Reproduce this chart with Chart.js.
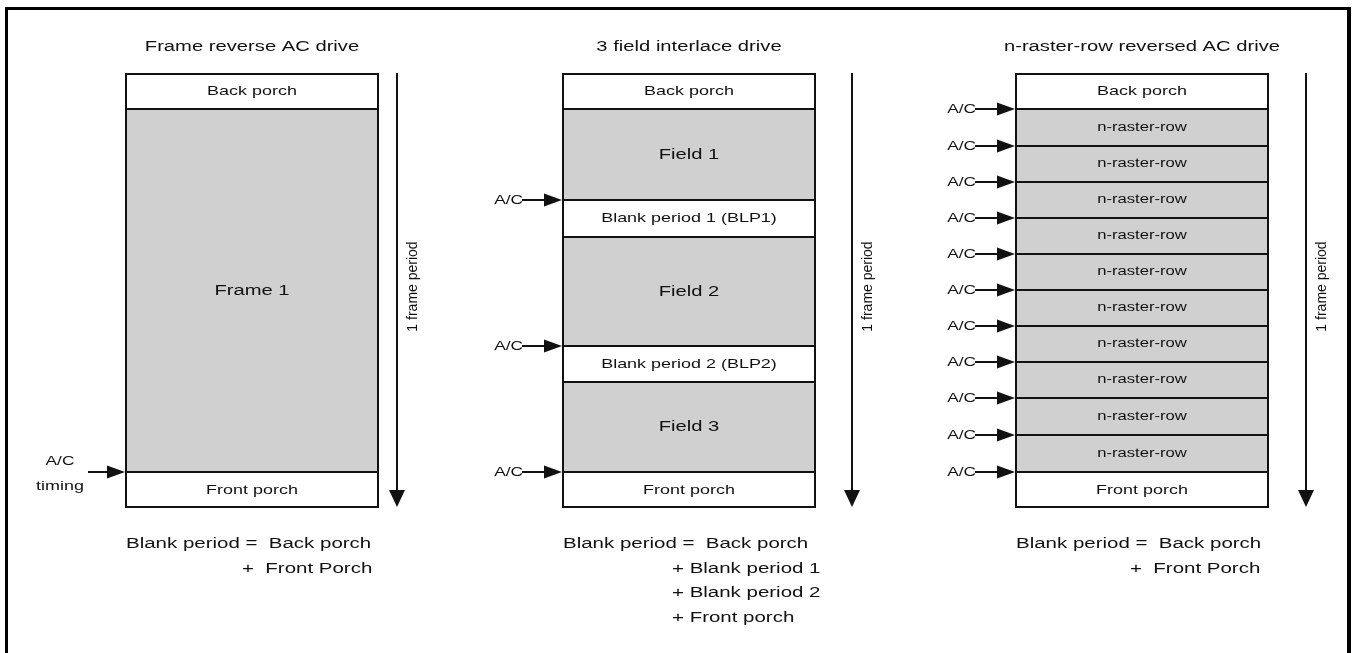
<!DOCTYPE html>
<html>
<head>
<meta charset="utf-8">
<script src="https://cdn.jsdelivr.net/npm/chart.js@4/dist/chart.umd.min.js"></script>
<style>
  html, body { margin: 0; padding: 0; background: #fff; }
  #stage { position: relative; width: 1357px; height: 653px; overflow: hidden; background: #fff; }
  #frame { position: absolute; left: 5px; top: 7px; width: 1346px; height: 700px; box-sizing: border-box;
           border: 3px solid #000; border-bottom: none; border-right-width: 4px; }
  canvas { position: absolute; left: 0; top: 0; }
</style>
</head>
<body>
<div id="stage">
  <div id="frame"></div>
  <canvas id="c1" width="1357" height="653"></canvas>
  <canvas id="c2" width="1357" height="653"></canvas>
  <canvas id="c3" width="1357" height="653"></canvas>
</div>
<script>
// ---------------- data ----------------
const panelTitles = ["Frame reverse AC drive", "3 field interlace drive", "n-raster-row reversed AC drive"];
const periodLabel = "1 frame period";
const acLabel = "A/C";
const acTimingLabel = "timing";

// Panel 1: frame reverse AC drive (segment lengths in the same time units, top to bottom)
const frameSegments = ["Back porch", "Frame 1", "Front porch"];
const frameKinds    = ["blank", "active", "blank"];
const frameLengths  = [36, 363, 36];
const frameAC       = [2];            // A/C at the boundary before segment #2
const frameNotes    = ["Blank period =  Back porch", "+  Front Porch"];

// Panel 2: 3 field interlace drive
const interlaceSegments = ["Back porch", "Field 1", "Blank period 1 (BLP1)", "Field 2", "Blank period 2 (BLP2)", "Field 3", "Front porch"];
const interlaceKinds    = ["blank", "active", "blank", "active", "blank", "active", "blank"];
const interlaceLengths  = [36, 91, 37, 109, 36, 90, 36];
const interlaceAC       = [2, 4, 6];
const interlaceNotes    = ["Blank period =  Back porch", "+ Blank period 1", "+ Blank period 2", "+ Front porch"];

// Panel 3: n-raster-row reversed AC drive
const rasterSegments = ["Back porch", "n-raster-row", "n-raster-row", "n-raster-row", "n-raster-row", "n-raster-row",
                        "n-raster-row", "n-raster-row", "n-raster-row", "n-raster-row", "n-raster-row", "Front porch"];
const rasterKinds    = ["blank", "row", "row", "row", "row", "row", "row", "row", "row", "row", "row", "blank"];
const rasterLengths  = [36, 37, 36, 36, 36, 36, 36, 36, 36, 37, 37, 36];
const rasterAC       = [1, 2, 3, 4, 5, 6, 7, 8, 9, 10, 11];
const rasterNotes    = ["Blank period =  Back porch", "+  Front Porch"];

// ---------------- styling / layout ----------------
const STRETCH = 1.33;            // the original figure is horizontally stretched
const FONT = '"Liberation Sans", Arial, Helvetica, sans-serif';
const INK = '#111';
const FILL = { blank: '#ffffff', active: '#d0d0d0', row: '#d0d0d0' };
const LABEL_SIZE = { blank: 13.5, active: 15.2, row: 12.5 };

function txt(ctx, t, x, y, size, align) {
  ctx.save();
  ctx.translate(x, y);
  ctx.scale(STRETCH, 1);
  ctx.font = size + 'px ' + FONT;
  ctx.textAlign = align || 'center';
  ctx.textBaseline = 'middle';
  ctx.fillStyle = INK;
  ctx.fillText(t, 0, 0);
  ctx.restore();
}
function arrowRight(ctx, x0, x1, y) {
  ctx.save();
  ctx.strokeStyle = INK; ctx.fillStyle = INK; ctx.lineWidth = 2;
  ctx.beginPath(); ctx.moveTo(x0, y); ctx.lineTo(x1 - 14, y); ctx.stroke();
  ctx.beginPath(); ctx.moveTo(x1 - 18, y - 6.5); ctx.lineTo(x1, y); ctx.lineTo(x1 - 18, y + 6.5); ctx.closePath(); ctx.fill();
  ctx.restore();
}
function arrowDown(ctx, x, y0, y1) {
  ctx.save();
  ctx.strokeStyle = INK; ctx.fillStyle = INK; ctx.lineWidth = 2;
  ctx.beginPath(); ctx.moveTo(x, y0); ctx.lineTo(x, y1 - 14); ctx.stroke();
  ctx.beginPath(); ctx.moveTo(x - 8, y1 - 17); ctx.lineTo(x, y1); ctx.lineTo(x + 8, y1 - 17); ctx.closePath(); ctx.fill();
  ctx.restore();
}

const panels = [
  { id: 'c1', title: panelTitles[0], names: frameSegments, kinds: frameKinds, lengths: frameLengths, ac: frameAC,
    notes: frameNotes, left: 125, right: 379, periodGap: 18, acStyle: 'timing', noteIndent: 117 },
  { id: 'c2', title: panelTitles[1], names: interlaceSegments, kinds: interlaceKinds, lengths: interlaceLengths, ac: interlaceAC,
    notes: interlaceNotes, left: 562, right: 816, periodGap: 36, acStyle: 'inline', noteIndent: 110 },
  { id: 'c3', title: panelTitles[2], names: rasterSegments, kinds: rasterKinds, lengths: rasterLengths, ac: rasterAC,
    notes: rasterNotes, left: 1015, right: 1269, periodGap: 37, acStyle: 'inline', noteIndent: 115 }
];

const TOP = 73, BOTTOM = 508, W = 1357, H = 653;

panels.forEach(p => {
  const n = p.lengths.length;
  const total = p.lengths.reduce((a, b) => a + b, 0);
  const datasets = p.lengths.map((v, i) => ({
    label: p.names[i],
    data: [v],
    backgroundColor: FILL[p.kinds[i]],
    borderColor: INK,
    borderWidth: { top: i === 0 ? 2 : 1, bottom: i === n - 1 ? 2 : 1, left: 2, right: 2 },
    borderSkipped: false,
    inflateAmount: 0,
    barPercentage: 1,
    categoryPercentage: 1,
    stack: 's'
  }));

  const deco = {
    id: 'deco_' + p.id,
    afterDatasetsDraw(chart) {
      const ctx = chart.ctx;
      const area = chart.chartArea;
      const yScale = chart.scales.y;
      const cx = (area.left + area.right) / 2;

      // title
      txt(ctx, p.title, cx, 47, 15.2, 'center');

      // labels inside the segments
      chart.data.datasets.forEach((ds, i) => {
        const el = chart.getDatasetMeta(i).data[0];
        const yMid = (el.y + el.base) / 2;
        txt(ctx, ds.label, el.x, yMid, LABEL_SIZE[p.kinds[i]], 'center');
      });

      // A/C markers at segment boundaries
      p.ac.forEach(k => {
        let cum = 0;
        for (let j = 0; j < k; j++) cum += p.lengths[j];
        const y = Math.round(yScale.getPixelForValue(cum));
        if (p.acStyle === 'timing') {
          arrowRight(ctx, area.left - 37, area.left, y);
          txt(ctx, acLabel, area.left - 65, y - 11, 13, 'center');
          txt(ctx, acTimingLabel, area.left - 65, y + 14, 13.5, 'center');
        } else {
          arrowRight(ctx, area.left - 40, area.left, y);
          txt(ctx, acLabel, area.left - 39, y, 13, 'right');
        }
      });

      // 1 frame period arrow
      const ax = area.right + p.periodGap;
      arrowDown(ctx, ax, yScale.getPixelForValue(0), yScale.getPixelForValue(total) - 1);
      ctx.save();
      ctx.translate(ax + 16, (area.top + area.bottom) / 2 - 4);
      ctx.rotate(-Math.PI / 2);
      ctx.font = '14px ' + FONT;
      ctx.textAlign = 'center';
      ctx.textBaseline = 'middle';
      ctx.fillStyle = INK;
      ctx.fillText(periodLabel, 0, 0);
      ctx.restore();

      // notes under the panel
      p.notes.forEach((t, i) => {
        const y = area.bottom + 36 + i * 24.5;
        if (i === 0) txt(ctx, t, area.left + 1, y, 15.4, 'left');
        else txt(ctx, t, area.left + p.noteIndent, y, 15.4, 'left');
      });
    }
  };

  new Chart(document.getElementById(p.id), {
    type: 'bar',
    data: { labels: [p.title], datasets },
    options: {
      responsive: false,
      animation: false,
      devicePixelRatio: 1,
      events: [],
      layout: { padding: { left: p.left, right: W - p.right, top: TOP, bottom: H - BOTTOM } },
      scales: {
        x: { display: false, stacked: true },
        y: { display: false, stacked: true, reverse: true, min: 0, max: total }
      },
      plugins: { legend: { display: false }, tooltip: { enabled: false }, title: { display: false } }
    },
    plugins: [deco]
  });
});
</script>
</body>
</html>
